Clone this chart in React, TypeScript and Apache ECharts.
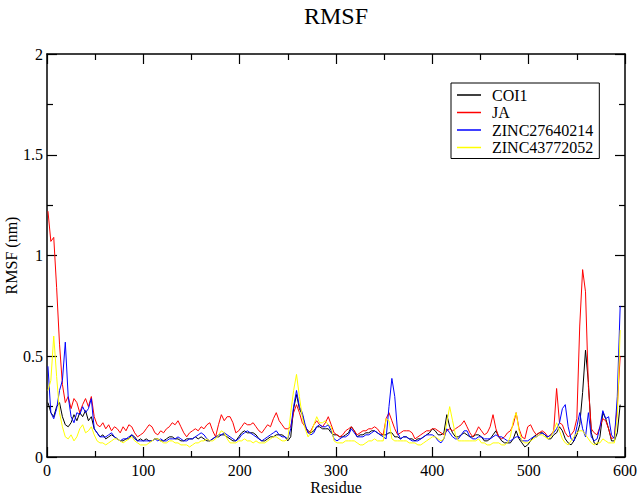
import React, { useEffect, useRef } from "react";
import * as echarts from "echarts";

// Residue numbers (sampled every 3 residues)
const residues: number[] = Array.from({ length: 199 }, (_, i) => 1 + 3 * i);

const seriesNames = ["COI1", "JA", "ZINC27640214", "ZINC43772052"];
const seriesColors = ["#000000", "#ff0000", "#0000ff", "#ffff00"];

const coi1: number[] = [
  0.27, 0.22, 0.20, 0.25, 0.27, 0.20, 0.16, 0.15, 0.17, 0.21,
  0.18, 0.22, 0.20, 0.23, 0.18, 0.20, 0.14, 0.12, 0.10, 0.11,
  0.09, 0.10, 0.11, 0.10, 0.09, 0.08, 0.08, 0.09, 0.09, 0.11,
  0.10, 0.08, 0.09, 0.08, 0.09, 0.08, 0.08, 0.09, 0.09, 0.08,
  0.08, 0.09, 0.10, 0.10, 0.09, 0.09, 0.08, 0.08, 0.09, 0.09,
  0.09, 0.10, 0.09, 0.10, 0.09, 0.08, 0.08, 0.09, 0.10, 0.10,
  0.11, 0.11, 0.10, 0.09, 0.08, 0.08, 0.10, 0.12, 0.13, 0.12,
  0.12, 0.12, 0.11, 0.09, 0.08, 0.08, 0.09, 0.10, 0.10, 0.11,
  0.11, 0.11, 0.10, 0.08, 0.10, 0.24, 0.31, 0.24, 0.21, 0.15,
  0.13, 0.12, 0.13, 0.15, 0.15, 0.14, 0.14, 0.14, 0.12, 0.11,
  0.11, 0.10, 0.10, 0.11, 0.12, 0.15, 0.13, 0.10, 0.11, 0.11,
  0.12, 0.12, 0.13, 0.13, 0.12, 0.11, 0.11, 0.11, 0.12, 0.12,
  0.10, 0.10, 0.09, 0.10, 0.10, 0.09, 0.09, 0.08, 0.09, 0.09,
  0.10, 0.11, 0.12, 0.14, 0.13, 0.11, 0.11, 0.12, 0.21, 0.15,
  0.12, 0.10, 0.10, 0.11, 0.12, 0.11, 0.10, 0.10, 0.11, 0.11,
  0.10, 0.08, 0.08, 0.09, 0.11, 0.13, 0.10, 0.08, 0.07, 0.07,
  0.07, 0.09, 0.13, 0.09, 0.07, 0.05, 0.06, 0.08, 0.10, 0.11,
  0.12, 0.12, 0.11, 0.09, 0.09, 0.11, 0.12, 0.15, 0.13, 0.09,
  0.07, 0.06, 0.08, 0.11, 0.16, 0.32, 0.53, 0.37, 0.12, 0.07,
  0.06, 0.10, 0.22, 0.19, 0.14, 0.08, 0.08, 0.12, 0.26,
];

const ja: number[] = [
  1.22, 1.07, 1.09, 0.84, 0.56, 0.36, 0.27, 0.30, 0.24, 0.29,
  0.27, 0.22, 0.26, 0.29, 0.25, 0.30, 0.20, 0.16, 0.15, 0.17,
  0.14, 0.16, 0.13, 0.15, 0.14, 0.12, 0.15, 0.13, 0.16, 0.15,
  0.12, 0.10, 0.11, 0.12, 0.14, 0.16, 0.15, 0.12, 0.11, 0.13,
  0.12, 0.14, 0.15, 0.17, 0.16, 0.18, 0.15, 0.12, 0.10, 0.12,
  0.13, 0.14, 0.13, 0.15, 0.14, 0.16, 0.17, 0.13, 0.10, 0.16,
  0.21, 0.18, 0.20, 0.20, 0.17, 0.12, 0.13, 0.15, 0.17, 0.16,
  0.16, 0.17, 0.15, 0.13, 0.12, 0.14, 0.16, 0.15, 0.19, 0.22,
  0.18, 0.16, 0.14, 0.14, 0.15, 0.22, 0.26, 0.22, 0.17, 0.15,
  0.12, 0.13, 0.16, 0.18, 0.16, 0.15, 0.17, 0.20, 0.16, 0.12,
  0.11, 0.10, 0.11, 0.13, 0.14, 0.15, 0.13, 0.11, 0.12, 0.13,
  0.13, 0.14, 0.14, 0.15, 0.14, 0.12, 0.11, 0.19, 0.22, 0.18,
  0.14, 0.11, 0.12, 0.13, 0.13, 0.13, 0.12, 0.09, 0.10, 0.11,
  0.12, 0.13, 0.13, 0.14, 0.14, 0.13, 0.12, 0.11, 0.13, 0.14,
  0.13, 0.14, 0.15, 0.16, 0.18, 0.15, 0.12, 0.10, 0.12, 0.15,
  0.13, 0.11, 0.12, 0.15, 0.21, 0.14, 0.10, 0.09, 0.10, 0.12,
  0.13, 0.16, 0.22, 0.14, 0.10, 0.09, 0.15, 0.16, 0.13, 0.11,
  0.12, 0.13, 0.12, 0.10, 0.11, 0.13, 0.34, 0.17, 0.16, 0.12,
  0.10, 0.11, 0.13, 0.19, 0.65, 0.93, 0.82, 0.35, 0.14, 0.12,
  0.11, 0.15, 0.19, 0.18, 0.14, 0.09, 0.10, 0.25, 0.50,
];

const zinc27640214: number[] = [
  0.45, 0.22, 0.19, 0.24, 0.33, 0.38, 0.57, 0.30, 0.20, 0.17,
  0.22, 0.21, 0.25, 0.22, 0.24, 0.29, 0.14, 0.12, 0.10, 0.10,
  0.10, 0.11, 0.12, 0.10, 0.09, 0.08, 0.09, 0.09, 0.10, 0.11,
  0.09, 0.08, 0.08, 0.08, 0.08, 0.08, 0.08, 0.09, 0.08, 0.09,
  0.08, 0.08, 0.09, 0.09, 0.09, 0.10, 0.09, 0.08, 0.08, 0.09,
  0.09, 0.10, 0.11, 0.12, 0.11, 0.09, 0.08, 0.09, 0.10, 0.11,
  0.11, 0.12, 0.11, 0.10, 0.09, 0.08, 0.09, 0.11, 0.12, 0.13,
  0.12, 0.11, 0.10, 0.09, 0.08, 0.09, 0.10, 0.11, 0.12, 0.13,
  0.11, 0.10, 0.10, 0.09, 0.14, 0.25, 0.33, 0.25, 0.22, 0.16,
  0.12, 0.11, 0.12, 0.15, 0.16, 0.15, 0.15, 0.16, 0.13, 0.09,
  0.08, 0.09, 0.10, 0.10, 0.11, 0.14, 0.12, 0.10, 0.10, 0.10,
  0.11, 0.11, 0.12, 0.13, 0.12, 0.11, 0.10, 0.09, 0.25, 0.39,
  0.30, 0.12, 0.09, 0.10, 0.10, 0.09, 0.08, 0.08, 0.08, 0.09,
  0.10, 0.11, 0.11, 0.11, 0.10, 0.08, 0.07, 0.09, 0.14, 0.12,
  0.10, 0.09, 0.09, 0.11, 0.13, 0.13, 0.10, 0.09, 0.09, 0.10,
  0.10, 0.09, 0.09, 0.09, 0.10, 0.11, 0.10, 0.10, 0.09, 0.08,
  0.08, 0.09, 0.10, 0.10, 0.08, 0.08, 0.08, 0.09, 0.10, 0.10,
  0.11, 0.12, 0.11, 0.10, 0.11, 0.12, 0.14, 0.17, 0.24, 0.26,
  0.15, 0.09, 0.08, 0.15, 0.22, 0.14, 0.10, 0.22, 0.10, 0.08,
  0.09, 0.15, 0.23, 0.19, 0.20, 0.11, 0.09, 0.30, 0.75,
];

const zinc43772052: number[] = [
  0.33, 0.38, 0.60, 0.40, 0.22, 0.15, 0.10, 0.09, 0.11, 0.08,
  0.10, 0.14, 0.16, 0.12, 0.13, 0.15, 0.11, 0.08, 0.07, 0.07,
  0.06, 0.07, 0.08, 0.09, 0.09, 0.08, 0.07, 0.08, 0.09, 0.10,
  0.08, 0.07, 0.06, 0.06, 0.06, 0.07, 0.08, 0.09, 0.09, 0.08,
  0.07, 0.07, 0.08, 0.08, 0.07, 0.07, 0.06, 0.06, 0.06, 0.05,
  0.06, 0.07, 0.07, 0.08, 0.08, 0.09, 0.08, 0.08, 0.09, 0.11,
  0.13, 0.12, 0.09, 0.07, 0.07, 0.07, 0.08, 0.08, 0.09, 0.08,
  0.08, 0.07, 0.08, 0.07, 0.07, 0.07, 0.08, 0.09, 0.10, 0.10,
  0.09, 0.08, 0.08, 0.09, 0.22, 0.33, 0.41, 0.30, 0.20, 0.14,
  0.10, 0.12, 0.16, 0.20, 0.17, 0.17, 0.18, 0.16, 0.15, 0.08,
  0.07, 0.07, 0.07, 0.08, 0.08, 0.08, 0.08, 0.07, 0.06, 0.06,
  0.07, 0.08, 0.08, 0.09, 0.08, 0.08, 0.08, 0.19, 0.18, 0.09,
  0.08, 0.08, 0.08, 0.08, 0.08, 0.07, 0.07, 0.07, 0.06, 0.06,
  0.07, 0.08, 0.09, 0.10, 0.10, 0.09, 0.08, 0.09, 0.17, 0.25,
  0.18, 0.11, 0.08, 0.08, 0.08, 0.08, 0.08, 0.08, 0.08, 0.09,
  0.07, 0.07, 0.06, 0.06, 0.07, 0.07, 0.07, 0.06, 0.06, 0.07,
  0.10, 0.18, 0.22, 0.13, 0.08, 0.07, 0.07, 0.08, 0.09, 0.10,
  0.11, 0.11, 0.10, 0.09, 0.10, 0.13, 0.17, 0.13, 0.09, 0.07,
  0.06, 0.08, 0.10, 0.12, 0.13, 0.13, 0.11, 0.09, 0.07, 0.06,
  0.07, 0.07, 0.09, 0.08, 0.07, 0.07, 0.07, 0.20, 0.63,
];

const seriesValues = [coi1, ja, zinc27640214, zinc43772052];

const FONT = "Liberation Serif";

export default function App() {
  const ref = useRef<HTMLDivElement>(null);

  useEffect(() => {
    if (!ref.current) return;
    const chart = echarts.init(ref.current, undefined, { renderer: "svg" });

    const axisLine = { show: true, onZero: false, lineStyle: { color: "#000", width: 1.5 } };
    const tick = { show: true, inside: true, length: 10, lineStyle: { color: "#000", width: 1.2 } };
    const minor = { show: true, splitNumber: 2, length: 6, lineStyle: { color: "#000", width: 1.2 } };
    const label = { fontFamily: FONT, fontSize: 16, color: "#000" };

    chart.setOption({
      animation: false,
      backgroundColor: "#fff",
      title: {
        text: "RMSF",
        left: 336,
        textAlign: "center",
        top: 4,
        padding: 0,
        textStyle: { fontFamily: FONT, fontSize: 24, fontWeight: "normal", color: "#000" },
      },
      legend: {
        orient: "vertical",
        left: 451,
        top: 83,
        backgroundColor: "#fff",
        borderColor: "#000",
        borderWidth: 1,
        borderRadius: 0,
        padding: [4, 6, 3, 6],
        itemWidth: 24,
        itemHeight: 1.5,
        itemGap: 1.5,
        icon: "rect",
        textStyle: { fontFamily: FONT, fontSize: 16, color: "#000", lineHeight: 16, padding: [0, 0, 0, 6] },
        data: seriesNames,
      },
      grid: {
        left: 47,
        right: 15,
        top: 54,
        bottom: 40,
        containLabel: false,
        outerBoundsMode: "none",
      },
      xAxis: [
        {
          type: "value",
          position: "bottom",
          min: 0,
          max: 600,
          interval: 100,
          axisLine,
          axisTick: tick,
          minorTick: minor,
          splitLine: { show: false },
          minorSplitLine: { show: false },
          axisLabel: { ...label, margin: 5 },
          name: "Residue",
          nameLocation: "middle",
          nameGap: 22,
          nameMoveOverlap: false,
          nameTextStyle: { fontFamily: FONT, fontSize: 16, color: "#000" },
        },
        {
          type: "value",
          position: "top",
          min: 0,
          max: 600,
          interval: 100,
          axisLine,
          axisTick: tick,
          minorTick: minor,
          splitLine: { show: false },
          axisLabel: { show: false },
        },
      ],
      yAxis: [
        {
          type: "value",
          position: "left",
          min: 0,
          max: 2,
          interval: 0.5,
          axisLine,
          axisTick: tick,
          minorTick: minor,
          splitLine: { show: false },
          minorSplitLine: { show: false },
          axisLabel: { ...label, margin: 4 },
          name: "RMSF (nm)",
          nameLocation: "middle",
          nameGap: 28,
          nameMoveOverlap: false,
          nameTextStyle: { fontFamily: FONT, fontSize: 16, color: "#000" },
        },
        {
          type: "value",
          position: "right",
          min: 0,
          max: 2,
          interval: 0.5,
          axisLine,
          axisTick: tick,
          minorTick: minor,
          splitLine: { show: false },
          axisLabel: { show: false },
        },
      ],
      series: seriesNames.map((name, k) => ({
        name,
        type: "line",
        xAxisIndex: 0,
        yAxisIndex: 0,
        showSymbol: false,
        symbol: "none",
        color: seriesColors[k],
        lineStyle: { color: seriesColors[k], width: 1 },
        data: residues.map((r, i) => [r, seriesValues[k][i]]),
        z: 2 + k,
      })),
    });

    return () => chart.dispose();
  }, []);

  return (
    <div
      ref={ref}
      style={{ position: "absolute", left: 0, top: 0, width: 640, height: 497 }}
    />
  );
}
